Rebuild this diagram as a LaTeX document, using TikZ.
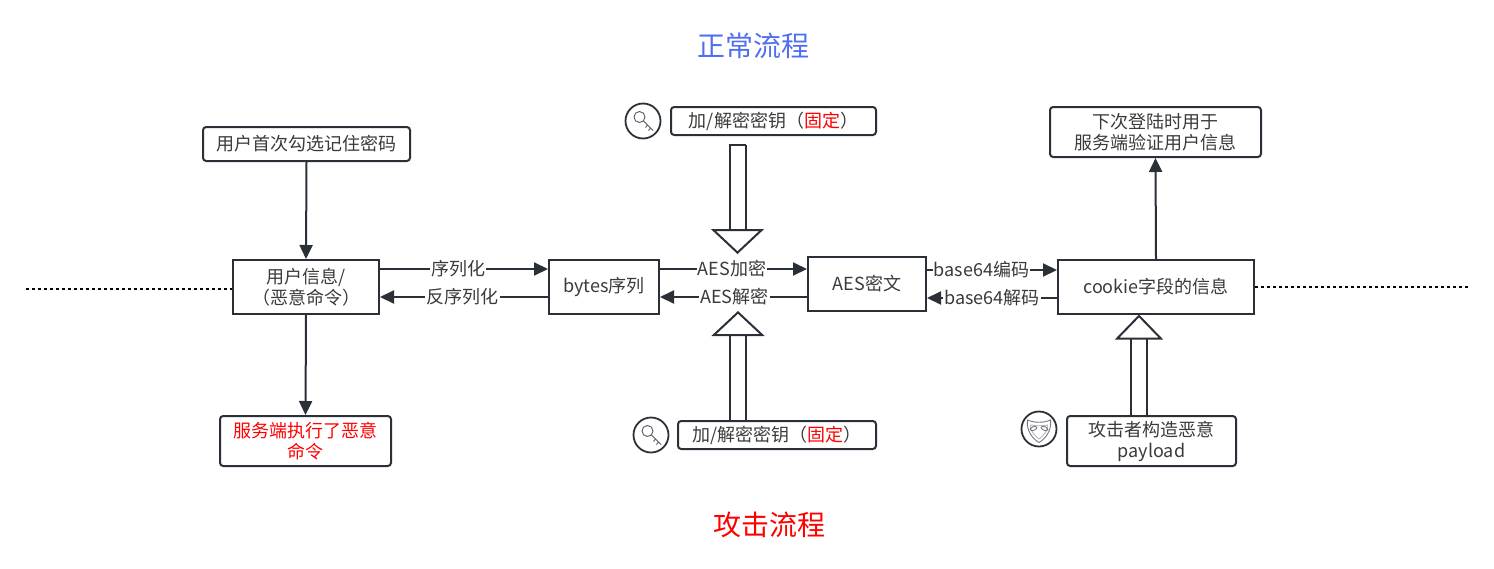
\documentclass[tikz,border=0pt]{standalone}
\usepackage{fontspec}
\setmainfont{Noto Sans CJK SC}
\usetikzlibrary{arrows.meta, calc, positioning}
\definecolor{inkline}{HTML}{2B3038}
\definecolor{inktext}{HTML}{3A3A3A}
\definecolor{titleblue}{HTML}{4F6EF0}
\tikzset{
  plainbox/.style={draw=inkline, line width=1pt, text=inktext, font=\fontsize{9}{10.5}\selectfont, align=center, inner sep=0pt},
  roundbox/.style={plainbox, rounded corners=1.6pt},
  flow/.style={draw=inkline, line width=1pt, -{Triangle[length=7pt,width=6.5pt]}},
  flowlabel/.style={fill=white, text=inktext, font=\fontsize{9}{10.5}\selectfont, inner sep=0.6pt},
  hollow/.style={draw=inkline, line width=1pt, double=white, double distance=7pt, -{Triangle[open,length=12.5pt,width=#1,fill=white]}},
  hollow/.default=26.5pt,
  iconring/.style={circle, draw=inkline, line width=0.9pt, minimum size=17.5pt, inner sep=0pt},
  dotline/.style={draw=black, line width=0.7pt, dash pattern=on 1.5pt off 1.5pt},
  bigtitle/.style={font=\fontsize{14}{16}\selectfont}
}
\begin{document}
\begin{tikzpicture}[x=0.5pt, y=-0.5pt]
\useasboundingbox (0,0) rectangle (1494,568);
% titulos
\node[bigtitle, text=titleblue] (titlenormal) at (753,46) {正常流程};
\node[bigtitle, text=red] (titleattack) at (769,525) {攻击流程};

% fila central
\node[plainbox, minimum width=73pt, minimum height=27pt] (userinfo) at (306,287) {用户信息/\\（恶意命令）};
\node[plainbox, minimum width=55pt, minimum height=27pt] (bytes) at (604,287) {bytes序列};
\node[plainbox, minimum width=59pt, minimum height=27pt] (aestext) at (867,284) {AES密文};
\node[plainbox, minimum width=98pt, minimum height=27pt] (cookie) at (1156,287) {cookie字段的信息};

% cajas de arriba
\node[roundbox, minimum width=103.5pt, minimum height=17pt] (firstlogin) at (306.5,144) {用户首次勾选记住密码};
\node[roundbox, minimum width=102.5pt, minimum height=14pt] (keytop) at (773.5,121) {加/解密密钥（{\color{red}固定}）};
\node[roundbox, minimum width=105.5pt, minimum height=25pt] (nextlogin) at (1155.5,132) {下次登陆时用于\\服务端验证用户信息};

% cajas de abajo
\node[roundbox, minimum width=85.5pt, minimum height=25pt, text=red] (executed) at (305.5,441) {服务端执行了恶意\\命令};
\node[roundbox, minimum width=99pt, minimum height=14pt] (keybottom) at (777,435) {加/解密密钥（{\color{red}固定}）};
\node[roundbox, minimum width=84.5pt, minimum height=25pt] (attacker) at (1151.5,441) {攻击者构造恶意\\payload};

% lineas punteadas
\coordinate (dotleft) at (26,289);
\coordinate (dotright) at (1468,287);
\draw[dotline] (dotleft) -- (userinfo.west |- dotleft);
\draw[dotline] (cookie.east |- dotright) -- (dotright);

% flechas verticales
\draw[flow] (firstlogin.south) -- (userinfo.north);
\draw[flow] (userinfo.south) -- (executed.north);
\draw[flow] (cookie.north) -- (nextlogin.south);

% filas de las flechas horizontales
\coordinate (rowup) at (0,269);
\coordinate (rowdown) at (0,297);
\coordinate (rowbaseup) at (0,270);
\coordinate (rowbasedown) at (0,298);

% flechas horizontales
\draw[flow] (userinfo.east |- rowup) -- node[flowlabel, pos=.465] (serial) {序列化} (bytes.west |- rowup);
\draw[flow] (bytes.west |- rowdown) -- node[flowlabel, pos=.51] (deserial) {反序列化} (userinfo.east |- rowdown);
\draw[flow] (bytes.east |- rowup) -- node[flowlabel, pos=.49] (aesenc) {AES加密} (aestext.west |- rowup);
\draw[flow] (aestext.west |- rowdown) -- node[flowlabel, pos=.495] (aesdec) {AES解密} (bytes.east |- rowdown);
\draw[flow] (aestext.east |- rowbaseup) -- node[flowlabel, pos=.42] (b64enc) {base64编码} (cookie.west |- rowbaseup);
\draw[flow] (cookie.west |- rowbasedown) -- node[flowlabel, pos=.5] (b64dec) {base64解码} (aestext.east |- rowbasedown);

% flechas huecas
\coordinate (hollowtop) at (737.5,144.5);
\coordinate (hollowtoptip) at (737.5,254);
\coordinate (hollowdowntip) at (738,311);
\coordinate (hollowright) at (1139,314.5);
\draw[hollow] (hollowtop) -- (hollowtoptip);
\draw[draw=inkline, line width=1pt] ($(hollowtop)+(-8.5,0)$) -- ($(hollowtop)+(8.5,0)$);
\draw[hollow] (keybottom.north -| hollowdowntip) -- (hollowdowntip);
\draw[hollow=24pt] (attacker.north -| hollowright) -- (hollowright);

% iconos de llave
\node[iconring] (keyicona) at (643,121) {};
\node[iconring] (keyiconb) at (651,435) {};
\foreach \keyicon in {keyicona, keyiconb} {
\begin{scope}[shift={(\keyicon.center)}, line width=0.45pt]
\draw[inkline!80] (-3.5,-4) circle [radius=5.5];
\draw[inkline!80] (0.5,0) -- (10,9.5);
\draw[inkline!80] (4.5,4) -- (2.5,6.5);
\draw[inkline!80] (7.5,7) -- (5.5,9.5);
\end{scope}
}

% icono de mascara
\node[iconring] (maskicon) at (1039,429) {};
\begin{scope}[shift={(maskicon.center)}, line width=0.45pt]
\draw[inkline!65] (-11.5,-9) .. controls (-5,-6) and (5,-6) .. (11.5,-9) .. controls (13,2) and (6,10) .. (0,13.5) .. controls (-6,10) and (-13,2) .. (-11.5,-9) -- cycle;
\draw[inkline!35] (-8.5,-4) .. controls (-4,-3) and (4,-3) .. (8.5,-4) .. controls (9,2) and (4,7) .. (0,10) .. controls (-4,7) and (-9,2) .. (-8.5,-4) -- cycle;
\draw[inkline!65, rotate around={20:(-5.5,-0.5)}] (-5.5,-0.5) ellipse [x radius=3.5, y radius=1.8];
\draw[inkline!65, rotate around={-20:(5.5,-0.5)}] (5.5,-0.5) ellipse [x radius=3.5, y radius=1.8];
\end{scope}
\end{tikzpicture}
\end{document}
